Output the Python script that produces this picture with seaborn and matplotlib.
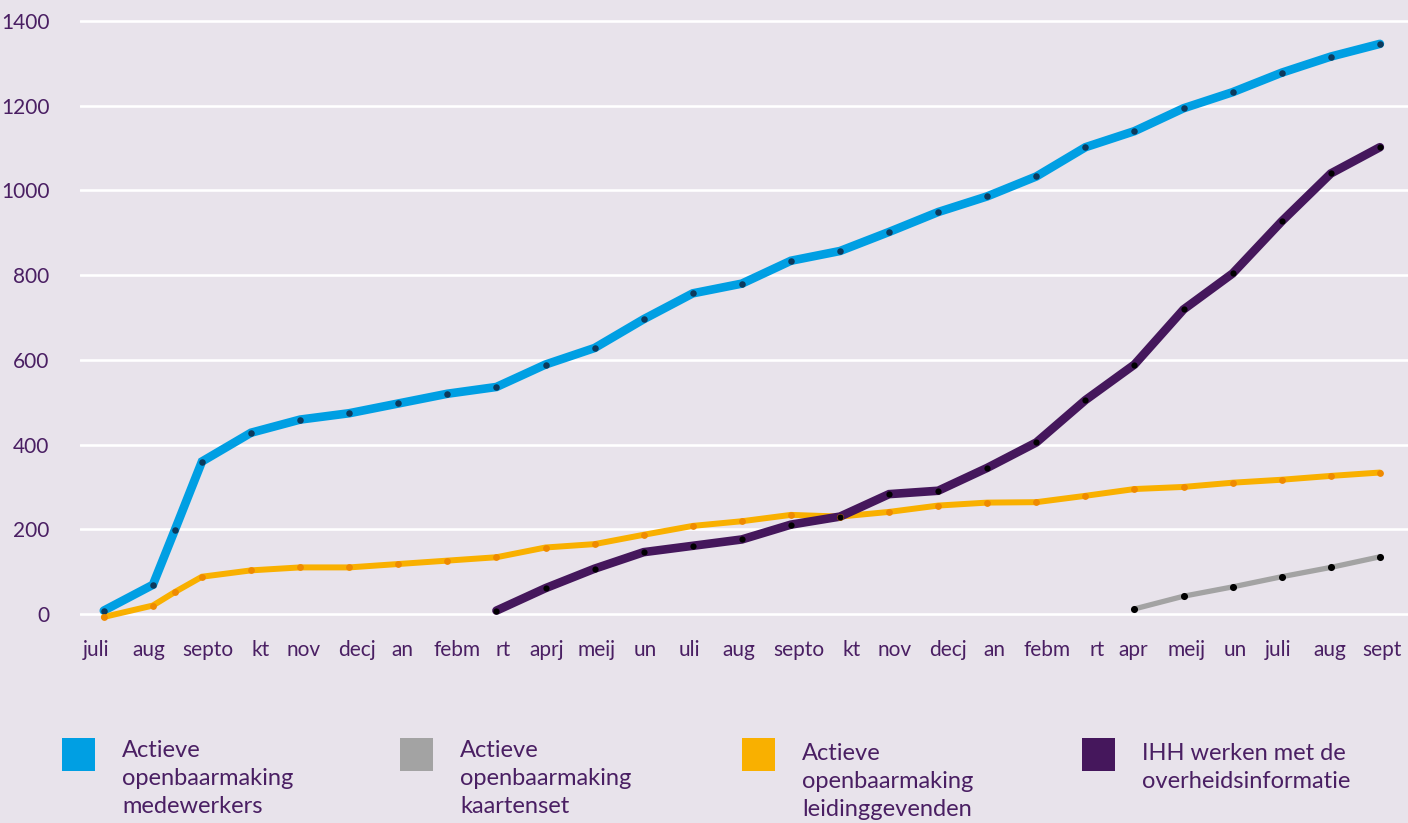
import numpy as np
import pandas as pd
import matplotlib
matplotlib.use("Agg")
import matplotlib.pyplot as plt
from matplotlib.patches import Rectangle
import seaborn as sns

# ---------------- data ----------------
# month index (0 = juli of first year); 1.45 = mid-August measurement
months_main = [0, 1, 1.45] + list(range(2, 27))
months_ihh = list(range(8, 27))
months_kaart = list(range(21, 27))

medewerkers = [8, 69, 199, 360, 428, 459, 474, 497, 520, 536, 589, 628, 696, 757,
               780, 834, 857, 902, 949, 986, 1033, 1102, 1140, 1194, 1232, 1278,
               1316, 1346]
leidinggevenden = [-7, 20, 52, 88, 103, 110, 110, 118, 126, 134, 157, 165, 187, 208,
                   219, 234, 230, 241, 256, 263, 264, 279, 295, 300, 310, 317, 326, 334]
ihh = [8, 61, 107, 146, 161, 176, 211, 230, 283, 291, 345, 405, 505, 589, 719, 804,
       927, 1040, 1102]
kaartenset = [12, 42, 64, 88, 110, 135]

tick_labels = ["juli", "aug", "septo", "kt", "nov", "decj", "an", "febm", "rt", "aprj",
               "meij", "un", "uli", "aug", "septo", "kt", "nov", "decj", "an", "febm",
               "rt", "apr", "meij", "un", "juli", "aug", "sept"]
tick_pos = [-0.16, 0.92, 2.12, 3.20, 4.06, 5.16, 6.09, 7.20, 8.13, 9.03, 10.05, 11.03,
            11.94, 12.94, 14.16, 15.24, 16.12, 17.20, 18.14, 19.22, 20.24, 20.97,
            22.07, 23.05, 23.92, 24.98, 26.04]
y_ticks = [0, 200, 400, 600, 800, 1000, 1200, 1400]

legend_labels = ["Actieve\nopenbaarmaking\nmedewerkers",
                 "Actieve\nopenbaarmaking\nkaartenset",
                 "Actieve\nopenbaarmaking\nleidinggevenden",
                 "IHH werken met de\noverheidsinformatie"]

# ---------------- style ----------------
BG = "#e8e3eb"
TXT = "#4a1f63"
C_BLUE = "#009fe3"
C_GRAY = "#a3a3a3"
C_ORANGE = "#f9b000"
C_PURPLE = "#45175c"

sns.set_style("white")
plt.rcParams["font.family"] = ["Lato", "DejaVu Sans"]

W, H = 1408, 823
fig = plt.figure(figsize=(W / 100, H / 100), dpi=100, facecolor=BG)
ax_left, ax_right, ax_top, ax_bot = 80, 1408, 12, 632
ax = fig.add_axes([ax_left / W, 1 - ax_bot / H, (ax_right - ax_left) / W,
                   (ax_bot - ax_top) / H])
ax.set_facecolor(BG)

# lines
sns.lineplot(x=months_main, y=medewerkers, ax=ax, color=C_BLUE, lw=6.2, zorder=3,
             solid_joinstyle="miter")
sns.lineplot(x=months_main, y=leidinggevenden, ax=ax, color=C_ORANGE, lw=4.3,
             zorder=4, solid_joinstyle="miter")
sns.lineplot(x=months_ihh, y=ihh, ax=ax, color=C_PURPLE, lw=6.2, zorder=5,
             solid_joinstyle="miter")
sns.lineplot(x=months_kaart, y=kaartenset, ax=ax, color=C_GRAY, lw=3.8, zorder=5)

# dots
sns.scatterplot(x=months_main, y=medewerkers, ax=ax, color="#0d3a5c", s=22,
                linewidth=0, zorder=6)
sns.scatterplot(x=months_main, y=leidinggevenden, ax=ax, color="#ef8a00", s=24,
                linewidth=0, zorder=6)
sns.scatterplot(x=months_ihh, y=ihh, ax=ax, color="black", s=20, linewidth=0, zorder=7)
sns.scatterplot(x=months_kaart, y=kaartenset, ax=ax, color="black", s=26,
                linewidth=0, zorder=7)

# axes
px_per_unit = 0.4236
ax.set_ylim(-(ax_bot - 614) / px_per_unit, 1400 + (21 - ax_top) / px_per_unit)
ux = 49.08
x0 = 103.8
ax.set_xlim((ax_left - x0) / ux, (ax_right - x0) / ux)

ax.set_yticks(y_ticks)
ax.set_yticklabels([str(v) for v in y_ticks])
ax.set_xticks(tick_pos)
ax.set_xticklabels(tick_labels)
ax.tick_params(axis="y", length=0, pad=22, labelsize=15, labelcolor=TXT)
ax.tick_params(axis="x", length=0, pad=6, labelsize=15, labelcolor=TXT)
ax.yaxis.grid(True, color="white", lw=1.9)
ax.xaxis.grid(False)
ax.set_axisbelow(True)
for s in ax.spines.values():
    s.set_visible(False)
ax.set_xlabel("")
ax.set_ylabel("")

# legend (manual layout)
sq_x = [62, 400, 742, 1082]
colors = [C_BLUE, C_GRAY, C_ORANGE, C_PURPLE]
text_y = [740, 740, 743, 743]
for xs, c, lab, ty in zip(sq_x, colors, legend_labels, text_y):
    fig.patches.append(Rectangle((xs / W, 1 - 771 / H), 33 / W, 33 / H,
                                 transform=fig.transFigure, color=c, lw=0))
    fig.text((xs + 60) / W, 1 - ty / H, lab, ha="left", va="top", fontsize=17,
             color=TXT, linespacing=1.4, fontweight="normal")

fig.savefig("out.png", dpi=100, facecolor=BG)
